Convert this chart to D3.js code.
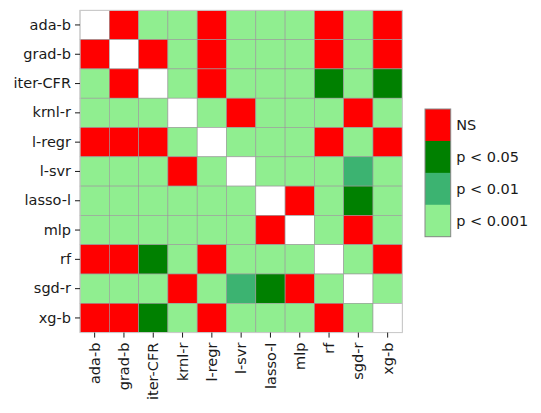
<!DOCTYPE html>
<html>
<head>
<meta charset="utf-8">
<script src="https://cdn.jsdelivr.net/npm/d3@7"></script>
<style>
  html, body { margin: 0; padding: 0; background: #fff; }
  svg { display: block; }
  text { font-family: "DejaVu Sans", sans-serif; fill: #1a1a1a; }
</style>
</head>
<body>
<svg id="chart" width="541" height="413"></svg>
<script>
// Categories (rows top→bottom, columns left→right)
const categories = ["ada-b", "grad-b", "iter-CFR", "krnl-r", "l-regr", "l-svr", "lasso-l", "mlp", "rf", "sgd-r", "xg-b"];

// Significance levels (legend, top → bottom)
const levelLabels = ["NS", "p < 0.05", "p < 0.01", "p < 0.001"];
const levelColors = ["#ff0000", "#008000", "#3cb371", "#90ee90"];

// Level code per cell: 0 = NS, 1 = p<0.05, 2 = p<0.01, 3 = p<0.001, null = diagonal
const rowAdaB    = [null, 0, 3, 3, 0, 3, 3, 3, 0, 3, 0];
const rowGradB   = [0, null, 0, 3, 0, 3, 3, 3, 0, 3, 0];
const rowIterCFR = [3, 0, null, 3, 0, 3, 3, 3, 1, 3, 1];
const rowKrnlR   = [3, 3, 3, null, 3, 0, 3, 3, 3, 0, 3];
const rowLRegr   = [0, 0, 0, 3, null, 3, 3, 3, 0, 3, 0];
const rowLSvr    = [3, 3, 3, 0, 3, null, 3, 3, 3, 2, 3];
const rowLassoL  = [3, 3, 3, 3, 3, 3, null, 0, 3, 1, 3];
const rowMlp     = [3, 3, 3, 3, 3, 3, 0, null, 3, 0, 3];
const rowRf      = [0, 0, 1, 3, 0, 3, 3, 3, null, 3, 0];
const rowSgdR    = [3, 3, 3, 0, 3, 2, 1, 0, 3, null, 3];
const rowXgB     = [0, 0, 1, 3, 0, 3, 3, 3, 0, 3, null];
const matrix = [rowAdaB, rowGradB, rowIterCFR, rowKrnlR, rowLRegr, rowLSvr, rowLassoL, rowMlp, rowRf, rowSgdR, rowXgB];

const svg = d3.select("#chart");
const fontSize = 14.5;

const plot = { left: 80, top: 10.3, size: 322.3 };

const x = d3.scaleBand().domain(categories).range([plot.left, plot.left + plot.size]);
const y = d3.scaleBand().domain(categories).range([plot.top, plot.top + plot.size]);
const color = d3.scaleOrdinal().domain([0, 1, 2, 3]).range(levelColors);

const cells = [];
matrix.forEach((row, i) => row.forEach((v, j) => cells.push({ r: categories[i], c: categories[j], v })));

svg.append("g").selectAll("rect")
  .data(cells)
  .join("rect")
  .attr("x", d => x(d.c))
  .attr("y", d => y(d.r))
  .attr("width", x.bandwidth())
  .attr("height", y.bandwidth())
  .attr("fill", d => d.v === null ? "#ffffff" : color(d.v))
  .attr("stroke", "#9a9a9a")
  .attr("stroke-width", 0.6);

// outer frame
svg.append("rect")
  .attr("x", plot.left).attr("y", plot.top)
  .attr("width", plot.size).attr("height", plot.size)
  .attr("fill", "none").attr("stroke", "#cccccc").attr("stroke-width", 1);

// Y axis
const yAxis = svg.append("g")
  .attr("transform", `translate(${plot.left},0)`)
  .call(d3.axisLeft(y).tickSize(5).tickPadding(4));
yAxis.select(".domain").remove();
yAxis.selectAll(".tick line").attr("stroke", "#1a1a1a").attr("stroke-width", 1);
yAxis.selectAll(".tick text").attr("font-size", fontSize).attr("font-family", "DejaVu Sans").attr("fill", "#1a1a1a");

// X axis
const xAxis = svg.append("g")
  .attr("transform", `translate(0,${plot.top + plot.size})`)
  .call(d3.axisBottom(x).tickSize(5).tickPadding(4));
xAxis.select(".domain").remove();
xAxis.selectAll(".tick line").attr("stroke", "#1a1a1a").attr("stroke-width", 1);
xAxis.selectAll(".tick text")
  .attr("font-size", fontSize).attr("font-family", "DejaVu Sans").attr("fill", "#1a1a1a")
  .attr("transform", "rotate(-90)")
  .attr("text-anchor", "end")
  .attr("x", -10)
  .attr("y", 0)
  .attr("dy", "0.35em");

// Legend (colorbar)
const leg = { x: 425, top: 109, bottom: 236.7, width: 25.7 };
const ly = d3.scaleBand().domain(levelLabels).range([leg.top, leg.bottom]);
const lg = svg.append("g");
lg.selectAll("rect.sw")
  .data(levelLabels)
  .join("rect")
  .attr("class", "sw")
  .attr("x", leg.x)
  .attr("y", d => ly(d))
  .attr("width", leg.width)
  .attr("height", ly.bandwidth() + 0.3)
  .attr("fill", (d, i) => levelColors[i]);
lg.append("rect")
  .attr("x", leg.x).attr("y", leg.top)
  .attr("width", leg.width).attr("height", leg.bottom - leg.top)
  .attr("fill", "none").attr("stroke", "#888888").attr("stroke-width", 1);
lg.selectAll("text")
  .data(levelLabels)
  .join("text")
  .attr("x", leg.x + leg.width + 5.5)
  .attr("y", d => ly(d) + ly.bandwidth() / 2)
  .attr("dy", "0.35em")
  .attr("font-size", fontSize)
  .text(d => d);
</script>
</body>
</html>
